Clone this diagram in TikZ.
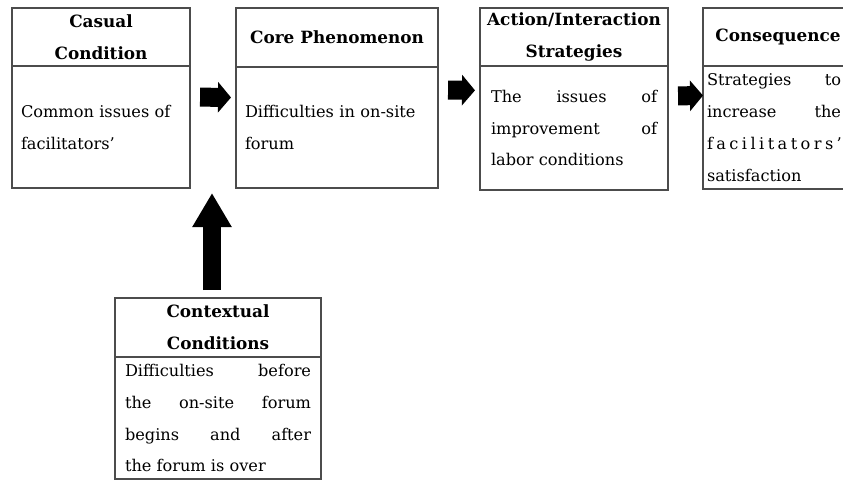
\documentclass[tikz,border=0pt]{standalone}
\usepackage{fontspec}
\setmainfont{DejaVu Serif}
\usetikzlibrary{positioning,arrows.meta}
\begin{document}
\begin{tikzpicture}[
    x=0.025cm, y=-0.025cm,
    head/.style={draw=black!70, line width=0.9pt, outer sep=0pt, anchor=north west, align=center,
        inner sep=0pt, font=\bfseries\fontsize{12}{22.7}\selectfont},
    body/.style={draw=black!70, line width=0.9pt, outer sep=0pt, inner ysep=1pt,
        font=\fontsize{11.5}{22.7}\selectfont},
    flow/.style={line width=0.475cm, -{Triangle[length=0.325cm,width=0.75cm]}},
    push/.style={line width=0.45cm, -{Triangle[length=0.85cm,width=0.925cm]}}
]
\useasboundingbox (0,0) rectangle (843,481);

% Boxes
\node[head, minimum width=4.45cm, minimum height=1.45cm] (head1) at (12,8) {Casual\\Condition};
\node[body, below=0pt of head1, text width=4.0cm, inner xsep=0.225cm, align=left,
    minimum height=3.05cm] (body1) {Common issues of\\facilitators'};

\node[head, minimum width=5.05cm, minimum height=1.475cm] (head2) at (236,8) {Core Phenomenon};
\node[body, below=0pt of head2, text width=4.6cm, inner xsep=0.225cm, align=left,
    minimum height=3.025cm] (body2) {Difficulties in on-site\\forum};

\node[head, minimum width=4.7cm, minimum height=1.45cm] (head3) at (480,8) {Action/Interaction\\Strategies};
\node[body, below=0pt of head3, text width=4.15cm, inner xsep=0.275cm, align=justify,
    minimum height=3.1cm] (body3) {The issues of\linebreak improvement of\linebreak labor conditions};

\node[head, minimum width=3.75cm, minimum height=1.45cm] (head4) at (703,8) {Consequence};
\node[body, anchor=north west, text width=3.35cm, inner xsep=0.1cm, align=justify,
    minimum height=3.075cm] (body4) at (head4.south west) {Strategies to\linebreak increase the\linebreak
    \makebox[\hsize][s]{f a c i l i t a t o r s '}\\satisfaction};

\node[head, minimum width=5.15cm, minimum height=1.475cm] (head5) at (115,298) {Contextual\\Conditions};
\node[body, below=0pt of head5, text width=4.65cm, inner xsep=0.25cm, inner ysep=0pt, align=justify,
    minimum height=3.05cm] (body5) {Difficulties before\linebreak the on-site forum\linebreak
    begins and after\linebreak the forum is over};

% Arrows
\draw[flow, shorten <=0.25cm, shorten >=0.125cm] ([yshift=0.75cm]body1.east) -- ([yshift=0.75cm]body2.west);
\draw[flow, shorten <=0.25cm, shorten >=0.125cm] ([yshift=0.94cm]body2.east) -- ([yshift=0.94cm]body3.west);
\draw[flow, shorten <=0.25cm] ([yshift=0.8cm]body3.east) -- ([yshift=0.8cm]body4.west);

\coordinate (gap) at (212,193);
\draw[push, shorten <=0.2cm] (head5.north -| gap) -- (gap);
\end{tikzpicture}
\end{document}
